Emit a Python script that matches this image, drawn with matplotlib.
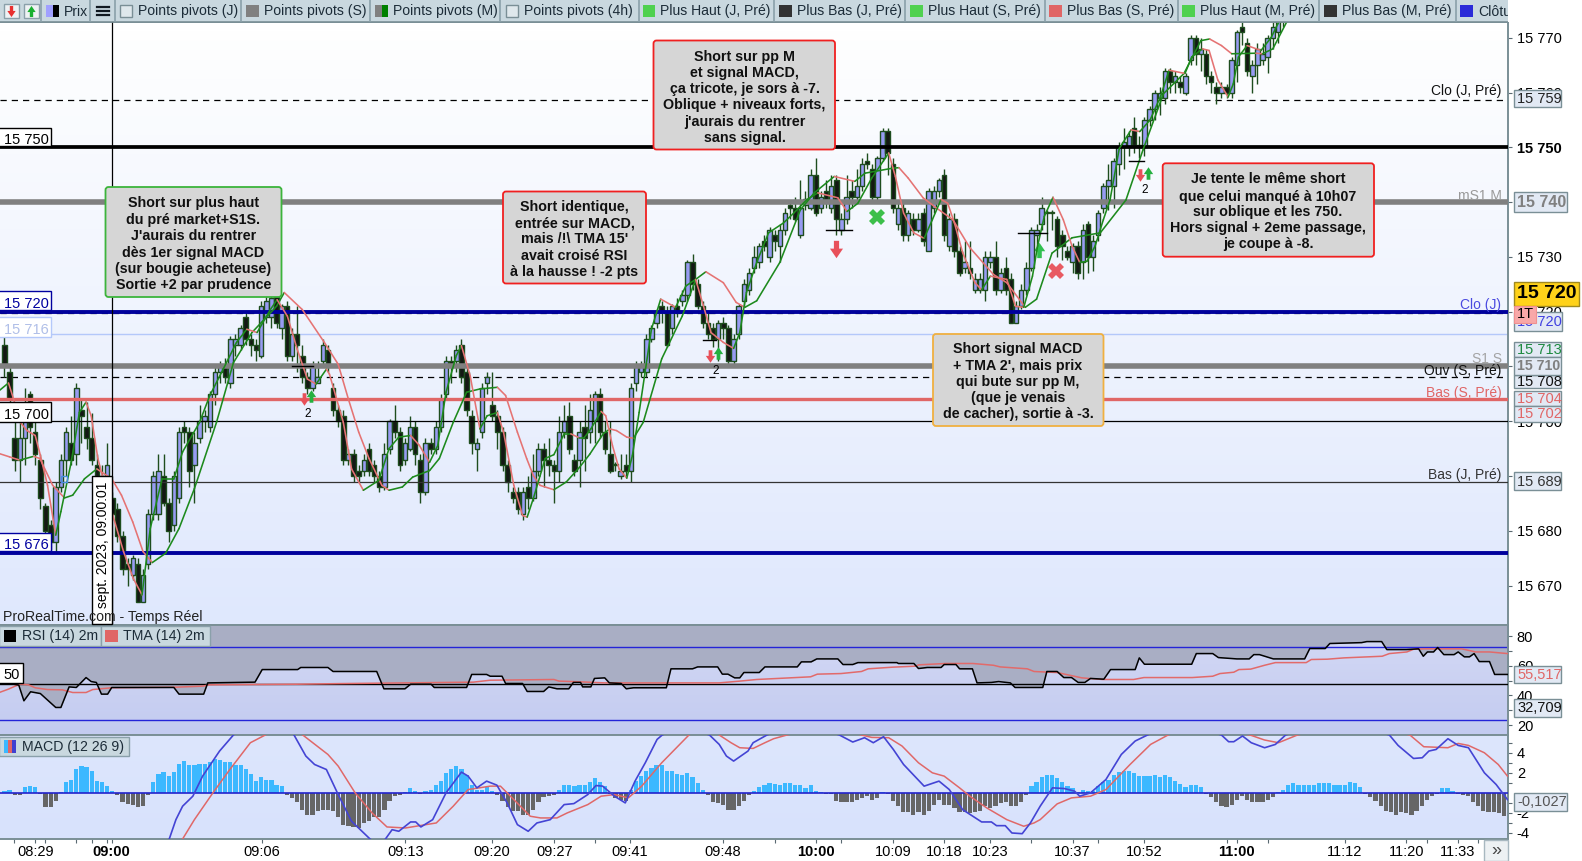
import numpy as np
import matplotlib
matplotlib.use("Agg")
import matplotlib.pyplot as plt
from matplotlib.colors import LinearSegmentedColormap
from matplotlib.patches import FancyBboxPatch, Rectangle
from matplotlib.path import Path

plt.rcParams['font.family'] = ['Liberation Sans', 'DejaVu Sans']

W, H = 1582, 861
base = 15700  # candle and average values are points above this level

opens = [14,9,-3,-7,-3,5,-2,-7,-15.5,-19,-22,-12,-7,-4,-6,2,-1,-3,-8,-10,-10,-14,-16,-21,-26,-28,-26,-33,-26,-17,
-17,-10,-15,-19,-14,-1,-2,-8,-3,0,-1,5,9,10,7,14,14,19,15,14,12,19,19,23,17,21,12,16,12,8,
6,7,11,13,6,2,1,-7,-6,-9,-9,-5,-8,-10,-12,-5,0,-2,-7,-5,-1,-7,-13,-4,-5,-1,5,11,11,14,
9,1,-5,-2,7,3,1,-2,-8,-13,-13,-17,-12,-14,-9,-5,-7,-8,-9,-2,1,-7,-7,-1,-2,0,5,-2,-6,-8,
-10,-8,-9,7,9,9,15,18,21,20,17,21,22,23,29,25,21,18,17,15,18,17,11,16,22,24,28,29,33,30,
34,32,35,39.5,39,34,39.5,39,45,39,42,39,44,35,37,42,41,43,47.5,46,41,48,53,47,36,39,34,37,35,38,
31,39,42,45,32,37,31,28,28,24,24,24,29,30,24,28,26,18,21,24,28,34,36,38,38,37,34,31,29,32,
29,36,30,34,39,43,43,47,50,50,53.5,50.5,50,55,57,59,59,64,62,62,60,66,70,67,67,63,61,60,61,60,
65,72,69,63,65,66,66.5,70,71,73]
closes = [10,4,-7,-3,2,-1,-6,-14,-20,-22,-12,-7,-2,-7,6,1,-3,-7,-10,-12.5,-8,-17,-21,-27,-27,-25,-33,-28,-17,-10,
-9,-15,-20,-10,-2,-2,-9,-4,0,1,5,9,10,8,15,15,17,15,14,13,21,22,22.5,18,21,12,16,14,8,6,
10,8,14,10,2,0,-7,-6,-10,-10,-7,-9,-10,-12,-6,0,-2,-8,-4,-1,-6,-13,-4,-5,-1,4,11,10,13,8,
2,-4,-4,6,8,1,-2,-8,-11,-14,-16,-13,-14,-9,-5,-7,-8,-9,-2,0,-5,-9,-2,-3,2,5,-2,-5,-9,-8,
-9,-9,6,10,10,15,17,20,20,14,21,20,23,29,25,21,18,16,15,18,17,11,15,21,25,27,30,32,32,35,
33,35,38,39,37,39,40.5,45,38,41,40.5,43,37,37,41,41,43,47,47,41,48,53,49,39,39,34,38,35,37,33,
42,42,44,34,37,31,27,29,27,26,26,30,30,24,27,24,18,21,24,28,35,35,39,38,38,32,32,30,32,27,
35,30,33,38,43,44,47.5,50,51,52,50.5,50,55,57,60,60,64,62,63,61,63,70,67,68,63,62,60,61,60,66,
71,71,64,65,68,67,70,72,73,76]
highs = [15.5,10,0,0,6,5.5,0,-6,-15,-18,-11,-6,-1,1,7,4,3.5,1.5,-6,-8,-4,-13,-15,-20,-25,-24.5,-25,-27,-16,-9,
-6,-6,-14,-9,-1,0,-1,-2,3,2,5.5,10,11,11.5,15.5,16,17.5,20,16,15,22,23,24,24,21.5,22,17,21,14,9,
11,11,15,14,7,3,2,-5,-5,-8,-6,-4,-7,-9,-4,0.5,3,-1,-3,1,0,-6,-3,-3,0,5,12,12,14,15,
10,2,-3,7,9,9,2,-1,-7,-12,-12,-12,-10,-6,-4,-4,-3,-7,1,3,3.5,-6,0,3,5,5.5,6,0,0,-7.5,
-6,-6,7,11,11,16,17.5,20.5,22,21,21.5,22.5,24,29.5,30.5,26,22,20,18,18.5,19,17.5,16,21.5,26,28,32,32.5,34,35.5,
35,36,39,40,41,44,42,46,48,42,44,45,45,38,45,44,46,48,49,47,48.5,53.5,53.5,48,40,40,38.5,38,38,39,
42.5,43,44.5,46,38,38,32,33,33,27,27,31,31,33,28,30,27,22,25,29,35.5,36,41,38.5,38.5,37.5,35,32,32.5,33,
36,36.5,34,38.5,43.5,47,48,51,53.5,53,55.5,52,55.5,57.5,60.5,61,64.5,64.5,64,63,63.5,70.5,70.5,70,68,64,62,62,61.5,66.5,
71.5,73,70,66,69,69,70.5,73,75,77]
lows = [8,2,-9,-11,-8,-4,-8,-16,-21,-23.5,-24,-13,-10,-8,-8,-4,-5,-8,-12,-14,-11,-18,-22,-28,-30,-29,-33,-33,-27,-18,
-18,-15.5,-22,-20,-15,-4,-12,-15,-4,-2,-2,3,7,7,6,12,13,14,12,11,11.5,18,17,17,15,11,11,9,7,5,
5.5,7,10,9,1,-1,-8,-8,-11,-11,-10,-10,-11,-13,-12.5,-6,-3,-9,-8,-5.5,-8,-15,-13.5,-6,-6,-2,4,7,9,7,
1,-6,-9,-3,5,0,-5,-9,-13,-15,-17,-18,-16,-14.5,-10,-12,-10,-15,-11,-3,-6,-10,-12,-9,-4,-4,-3,-6,-9.5,-9,
-10.5,-10,-11,5.5,8,8,14.5,17,18,13.5,16,19,21,22,24,20.5,17,15,13.5,11,15,10.5,10,15,21,23,27,28,31,29,
31,29,34,37,36.5,33.5,38.5,38.5,37.5,38,39,38,34,34,36,39,40,42,46,40,40,47.5,45,38,35,33,33,34,34.5,32,
31,38,41,33,31,30,26.5,27,26,23.5,23.5,22,28,23,23.5,23,18,18,20.5,23,27.5,31,35,33,35,30,29.5,29.5,27,26,
26,27,27.5,33,38,38.5,39,45,46,48.5,49,48,48.5,54,55,56,58,60,60,60,59.5,65,65,64,61.5,60,58,59,59,59,
62,68.7,63,60,61.5,65,63.5,68,69,72]

# price averages, read at bar positions
fast_x = [-1,0.8,1.8,3.1,4.4,6,7,8.4,10,11,13,14.6,15.9,16.9,18.2,20.9,23.2,25.1,26.8,28.4,30.7,33,34.7,38,40,42.6,45.2,47.2,49.2,51.8,53.1,55.1,57,59,60.7,62.7,63.3,66,67.6,69.9,72.9,74.9,76.8,79.1,80.8,82.8,84.4,86,88,89,90.7,92.6,94,96,97.2,99.2,100.9,101.8,103,104.3,105.3,107,109,110.3,111.9,112.9,114.2,116.2,117.1,118.4,119.7,121.2,122.3,123.6,126,127.8,130.7,132.7,134.6,136.3,137.6,140,142,143.2,144.5,146.5,148.8,151.7,153.7,156.3,158.4,162.3,164.1,166.2,168.9,171.5,172.2,173.5,175.1,177.1,179.1,180.7,182.4,183.7,185,186.6,189,190.3,192,195.2,196.9,198.5,200.2,201.2,202.5,204.2,206.2,207.9,209.4,210.8,212.4,214,215.3,217.1,219.4,221.1,223.1,225.1,226.8,229.9,231.2,233.3,234.6,236.3,238.3,239.3,240.3,242,244.7,246.7,248,249.4]
fast_p = [5.6,7,4,-0.2,-1.7,-2.6,-6.2,-11.7,-20.8,-16.5,-7.5,1.6,3.5,1,-6.8,-16.5,-23.8,-28.7,-31.7,-19.6,-10.5,-10.5,-5.6,-0.2,4.7,9.5,14.4,16.8,16.2,20.4,22.2,19.2,13.2,7.7,6.8,9.5,8.6,-0.2,-8.7,-12.6,-10.8,-5,-2.9,-2.6,-4.4,-7.5,-4.4,5.3,12,13.8,8.3,-1.4,1,1.6,-2,-11.7,-17.2,-17.5,-14.1,-10,-6.8,-6.1,-2.3,-2.3,-3,-3,-1.4,1.8,1,-4.4,-8.7,-10.4,-6.2,1.6,16.8,22.3,20.8,24.7,25.9,20.5,16.2,14.4,13.3,16.2,23.5,29,34.4,36.2,38,40.5,41.7,40.8,38.3,39.8,44.4,48,49,44.7,38,34.4,33.4,36.8,40.5,39.8,36.2,30.8,25.3,24,26.5,25.9,21,20.8,26.5,32,37.4,40.9,36.8,32,29,29.2,32,36.8,40.4,49.8,53.2,52.9,55,59.2,64.1,63.5,66.5,68,67.7,62.3,59.2,61.6,66.5,68.6,67.7,70.1,72.6,75]
slow_x = [-1,1,3,5.7,6.9,9.4,11.7,13.3,15.6,18,20.9,22.8,25,27,28.8,31.4,34,37,41.3,44.6,48.2,53,54.5,58,62.3,65,67,69,71,73.5,74.9,77.5,79.5,82.8,84.7,87.4,90,92.6,96,97.6,99.9,101.7,103,104.3,107,109.4,112,114,116.6,117.9,119.2,121.2,122.5,124.4,128,132,134.6,136.6,140,142.5,144.2,146.5,151,155,157.7,161.6,165.6,167.6,172.9,174.2,176,178.9,181.4,184.7,188,192.6,195.2,198.8,201,204,207.9,213.4,218.4,221.7,225.7,229.7,233,234.7,237,239,243.7,245,247,249.7,251.7]
slow_p = [-5.9,-6.5,-7.1,-6.4,-6.8,-11.7,-14,-13.5,-10.5,-8.7,-10.5,-13.5,-18.4,-23.8,-25.8,-24.1,-19.6,-12.3,-0.2,10.7,16.2,21,23.5,20.4,14.4,10.4,4,-2,-6.8,-11.7,-12.6,-12,-10.2,-9,-6.8,-0.2,5.3,5.9,6.2,4.7,-2,-6.8,-9.9,-11.7,-12.5,-11.1,-8.4,-6,-2.3,-1.4,-1.7,-2.9,-3.1,-0.2,11.4,19.2,25.9,27.3,25.3,21.7,20.8,22,29,38.6,41.7,44.7,43.8,45.3,46.2,46.3,44.4,40.8,39,36.8,31.7,26.8,25.3,20.8,22.3,30.7,33.5,34.4,40.4,49.5,59.8,63.5,69.5,69.8,68.6,67.1,67.2,67.1,68,72.9,77]

# horizontal levels on the price panel
lvl_black = 15750
lvl_gray = [15740, 15710]
lvl_blue = [15720, 15676]
lvl_red = 15704
lvl_thin = [15700, 15689]
lvl_light = 15716
lvl_dashed = [15758.6, 15708, 15719.8]

# RSI panel
rsi_x = [-1,0.1,1.8,2.8,3.8,5.1,7,10,11,12.6,14,15.9,16.9,17.9,18.9,20.1,20.9,33,34,38.8,39.6,48.8,50.2,57.1,57.7,63,64,72.5,73.9,78,79.1,83.1,83.7,90,91,93.9,94.6,96.9,97.6,100.9,101.8,105,106,107.6,109.9,110.8,112.2,112.6,114.2,114.9,116.9,117.8,120.1,121.1,122.5,128.9,129.8,134,135,138.9,139.8,140.9,142.2,143.2,144,147,148.1,154.4,155.2,157.1,158.2,162.3,163.3,165.2,166.2,173.8,174.1,177.1,178,179.7,182.4,183,185.3,186,188.5,189.4,192.2,193.6,195.9,196.8,202.2,203,205,206.3,207.8,209.1,210.4,211.5,214.1,215.4,220.2,221,222,231.2,232.1,235.3,236.4,240,242.4,243.3,244.4,247.1,253.2,254.2,257.2,258.1,264.3,265.3,268.2,269.2,273,275.4,276.3,277.1,278.3,279.1,280.3,282.3,283.1,284.3,285.3,286.2,287.2,289.2,290.2,293]
rsi_val = [47.6,47.6,47.6,47,36.4,42.5,41.3,31.9,31.9,45.8,45.4,52.1,49.4,48.8,40.9,40.9,45.4,45.4,40.9,40.9,48.5,49,57.5,57.5,58.9,58.9,56.2,56.2,44.5,44.5,47.6,47.6,45.4,45.4,54.2,54.2,53,53,48.1,48.1,42.7,42.7,45.8,44.5,44.5,48.8,48.8,45.8,45.8,51.5,51.9,48.5,48.1,44.5,45.2,45.2,58,58,59.3,59.3,54.4,54.4,51.9,51.9,55.5,55.5,59.3,59.3,62.7,62.7,64.7,64.7,60.9,60.9,62.2,62.2,61.6,61.6,58.2,58.9,58.9,60.9,60.9,58,58,48.5,48.8,49.4,48.5,45.4,45.4,56.2,56.2,52.1,52.1,48.8,48.8,51.5,51,57.5,57.5,65.4,61.1,61.1,68.3,68.3,65.6,64.7,64.7,67.6,67.6,64.7,64.7,71.7,71.7,75.1,75.7,76.4,76.4,71,71,71.5,66.5,69.4,69.4,72.4,67.6,67.6,69.4,66.1,66.1,68.3,62.9,62.9,54.2,54.2]
tma_x = [-1,0.8,2.1,3.1,4.7,6,8.4,11.3,13.3,15.9,17.2,20.9,33.4,38.6,39.9,57.1,65,78.1,91.3,94.6,102.4,107,108,112.2,116.9,139.2,143.2,146.5,151.8,157,158.3,162.9,166.9,168.2,172.9,177.4,178.1,183.3,188.6,192.6,193.9,199.2,200.5,203.6,205,209.8,213.8,219.9,221.9,231.3,235.3,236.7,239.4,240.4,242.7,245.4,247.5,253.5,254.5,257.6,260.9,268.3,269.7,273.1,274.4,276.4,283.8,286.5,289.2,292.7]
tma_val = [42,44.3,46.3,47.6,47.2,45.2,44,43.8,42,42,44,45.2,45.6,46.3,47.2,47.6,48,48.5,49,50.3,50.6,50.8,49.7,49.2,48.5,48.5,49.7,50.8,51.7,52.6,54.4,54.8,56.2,58,59.1,59.8,60.7,61.6,61.6,60.4,59.3,58,56.2,55.7,55.5,51.9,50.8,50.8,52.1,52.1,53,54.8,55.7,57.5,57.8,60.4,62.2,62.2,64.3,64.5,65.4,66.5,68.3,69.4,71.2,71.5,71.5,69.4,69.4,68.3]
rsi_mid, rsi_upper, rsi_lower = 48, 72.8, 23.1

# MACD panel, one histogram value per bar
macd_hist = [.17,.27,-.23,-.2,.57,.73,.6,-.13,-1.4,-1.43,-.83,.13,1.07,1.33,2.33,2.67,2.53,2.17,1.23,1.13,.67,.23,-.17,-.93,-1.13,-1.17,-1.43,-1.27,-.17,1.13,
1.87,2.07,1.67,2.07,2.83,3.13,2.77,2.77,2.83,2.87,3.1,3.33,3.27,3.07,3.07,2.73,2.73,2.33,1.87,1.17,1.57,1.33,1.33,.83,.67,-.2,-.5,-.93,-1.67,-2.17,
-2.17,-1.77,-1.67,-1.67,-1.83,-2.4,-3.17,-3.27,-3.4,-3.5,-3,-2.83,-2.4,-2.4,-1.67,-.77,-.27,-.2,.1,.5,.17,-.13,.17,.33,.77,1.23,2,2.33,2.67,2.4,
1.77,.83,.33,.33,.57,.23,-.17,-.83,-1.43,-1.83,-1.83,-2.23,-2.17,-1.67,-.9,-.43,-.33,-.2,.33,.83,.83,.67,.83,.83,1.13,1.53,1.13,.73,-.13,-.5,
-.67,-.83,.33,1.17,1.67,2.17,2.5,2.73,2.73,2.23,2.17,1.9,1.77,2,1.6,1.03,.33,-.2,-.9,-1,-1.17,-1.67,-1.67,-1.27,-.77,-.17,.2,.63,.83,1.03,
.9,.83,1,1.03,.77,.77,.53,.77,.23,.1,-.1,-.1,-.77,-.93,-.93,-.93,-.73,-.5,-.33,-.73,-.5,.13,-.1,-.83,-1.27,-1.87,-1.87,-2.17,-1.9,-2.17,
-1.77,-1.17,-.73,-1.17,-1.17,-1.5,-1.9,-1.9,-2,-1.93,-1.83,-1.33,-1.5,-1.27,-1,-.93,-1.33,-1.27,-.87,-.17,.67,1.13,1.6,1.83,1.83,1.53,1.13,.73,.53,.07,
.33,.17,.2,.67,1.13,1.33,1.77,2.1,2.17,2.17,2,1.67,1.67,1.67,1.77,1.6,1.77,1.57,1.23,.93,.6,.77,.77,.63,-.1,-.43,-.93,-1.27,-1.43,-1.17,
-.73,-.33,-.73,-.93,-.93,-.93,-.73,-.43,.1,.33,.83,1.03,.83,.83,.83,.83,1.03,1.03,1.03,.83,.83,.83,1.13,1.03,.63,-.1,-.43,-.83,-1.33,-1.77,
-1.93,-2.17,-1.93,-2,-2.17,-1.77,-1.33,-.73,-.33,-.07,.5,.5,.2,-.1,-.23,-.27,-.87,-1.33,-1.77,-1.87,-1.93,-2,-2.27]
macd_x = [30.1,32.1,33.4,34.7,36.7,38.6,41.9,44.6,49.2,53.1,56.4,58.7,60.4,62.7,65,67.6,71.2,72.9,74.2,75.5,76.8,79.1,80.1,81.1,83.4,86,89,90.3,92,93.9,95.9,97.9,99.9,102,103.7,106.3,109,110.9,113.6,115.2,116.5,118.8,120.9,122.8,124.8,127.1,128.1,132,137.3,139.2,140.6,142,144.8,145.8,148.5,155,162.6,165.2,167.5,169.2,171.2,173.1,175.1,179.1,182,184,186.6,190.3,192.2,193.2,194.9,196.2,198.2,199.8,201.7,204.1,206.4,208.4,209.4,211.5,214.5,217.5,220.2,222.6,228.6,237,238.4,239.4,241.1,242.8,245.4,247.5,249.5,259.6,269.7,271.4,274.4,276.1,277.4,278.8,281.1,283.1,285.1,288.2,290.5,292.7]
macd_val = [-5.6,-4.6,-2.67,-1.33,-.33,1.67,4.17,5.77,7.5,7.5,5.77,3.67,2.83,2.33,-.17,-2.83,-4.6,-5.2,-4.6,-3.67,-3.83,-2.9,-2.9,-3.4,-2.67,0,2.07,1.67,.5,1.17,.77,-1,-3.17,-3.83,-3,-2.67,-1.17,-1.07,-.17,.73,.67,-.33,-1,1.17,3,5.33,5.77,6.67,5.77,4.83,3.67,3.17,4.17,5,5.77,7,5.77,5.07,5.5,5,5.6,4.33,2.83,.67,1.17,.33,-1.67,-2.9,-2.9,-3.27,-3.27,-4,-4.07,-3,-1.33,.5,.43,.17,-.33,0,1.33,3.83,5.17,5.77,7,5.77,5.1,5.1,5.67,5,4.5,4.83,5.77,7.3,5.77,4.73,3.43,3.5,4.17,4.33,5.4,4.73,4.5,2,.83,-.67]
signal_x = [33.7,34.7,37,40.6,43.9,47.9,50.8,54.4,58.1,63,65,68.3,71.6,74.5,78.1,84.1,87.4,90.3,94.6,96.6,99.2,102.4,104.4,107.6,109.6,113.6,116.2,118.8,121.5,124.1,128,133.3,136.6,139.2,141.5,143.2,145.8,148.1,149.8,152.4,159.7,166.9,168.9,172.2,174.8,178,180.7,183,186,188,191.3,195.2,198.5,200.5,201.7,205,207.8,211.5,214.5,219.2,223.2,226.6,232,237,242.8,245.4,248.1,251.8,262.3,273.7,276.4,281.1,283.1,285.1,288.2,290.9,292.7]
signal_val = [-5.5,-4.6,-2.67,0,2.33,5,5.77,7,5.77,3.83,2.67,0,-2,-3.4,-3.5,-3,-1.33,.33,.67,.67,-.67,-2.33,-2.5,-2.5,-2,-1.17,-.33,-.17,-.5,.67,3,5.77,6.67,5.77,5,4.5,4.43,5,5.4,5.77,6.67,5.77,5.53,5.5,4.67,3,2,1.67,.5,-.33,-1.5,-2.67,-3.33,-3,-2.67,-1.1,-.5,-.33,.33,2.83,4.83,5.77,6.8,6.4,5.73,5.27,5,5.77,7,5.77,4.6,4.5,4.93,4.73,4,2.83,1.67]

# time axis, positions are bar numbers
time_pos = [6,20.9,50.2,78.1,95,107.1,121.8,139.9,158,173,183,192,208,222,240,261,273,283]
time_lbl = ['08:29','09:00','09:06','09:13','09:20','09:27','09:41','09:48','10:00','10:09','10:18','10:23','10:37','10:52','11:00','11:12','11:20','11:33']
time_minor = [1.9,8,14,17,20,115,150,163,200,213,238,246,277,287]

price_ticks = [15670,15680,15690,15700,15710,15720,15730,15740,15750,15760,15770]
price_hidden = [15710, 15740]  # sit fully behind their value tags

GREEN = '#1d8a1d'
RED = '#e57373'
WICK = '#1e4d1e'
DOWN_ARROW = Path([(-.3,1),(.3,1),(.3,.1),(.75,.1),(0,-1),(-.75,.1),(-.3,.1),(-.3,1)], closed=True)
UP_ARROW = Path([(-.3,-1),(.3,-1),(.3,-.1),(.75,-.1),(0,1),(-.75,-.1),(-.3,-.1),(-.3,-1)], closed=True)


def add_px(fig, x0, y0, x1, y1):
    return fig.add_axes([x0/W, 1-y1/H, (x1-x0)/W, (y1-y0)/H])


def grad(ax, c_top, c_bot, xlim, ylim):
    cm = LinearSegmentedColormap.from_list('g', [c_top, c_bot])
    ax.imshow(np.linspace(0, 1, 64).reshape(-1, 1), cmap=cm, aspect='auto', zorder=0,
              extent=[xlim[0], xlim[1], ylim[0], ylim[1]], origin='upper')
    ax.set_xlim(xlim)
    ax.set_ylim(ylim)


def color_line(ax, xs, ys, zorder=5):
    # green while rising, red while falling
    for k in range(len(xs)-1):
        c = GREEN if ys[k+1] >= ys[k] else RED
        ax.plot(xs[k:k+2], ys[k:k+2], color=c, lw=1.15, zorder=zorder, solid_capstyle='round')


fig = plt.figure(figsize=(W/100, H/100), dpi=100, facecolor='white')
xlim = (-0.857, 292.8)

# price panel
ax = add_px(fig, 0, 22, 1508, 625)
grad(ax, '#ffffff', '#dfe8fd', xlim, (15662.8, 15772.9))
x = np.arange(len(opens))
o = base + np.array(opens, dtype=float)
c = base + np.array(closes, dtype=float)
hi = base + np.array(highs, dtype=float)
lo = base + np.array(lows, dtype=float)
up = c >= o
ax.vlines(x, lo, hi, color=WICK, lw=1, zorder=2)
ax.bar(x, np.maximum(np.abs(c-o), 0.15), bottom=np.minimum(o, c), width=0.88,
       color=['#979bf2' if u else '#141814' for u in up], edgecolor=WICK, linewidth=1.0, zorder=3)
color_line(ax, slow_x, base + np.array(slow_p))
color_line(ax, fast_x, base + np.array(fast_p))

ax.axhline(lvl_black, color='black', lw=2.7, zorder=4)
for v in lvl_gray:
    ax.axhline(v, color='#808080', lw=4, zorder=4)
ax.axhline(lvl_light, color='#b4c8fa', lw=1, zorder=1)
for v in lvl_dashed:
    ax.axhline(v, color='black', lw=0.9, ls=(0, (5, 4)), zorder=1)
for v in lvl_blue:
    ax.axhline(v, color='#00009c', lw=2.8, zorder=4)
ax.axhline(lvl_red, color='#e06666', lw=2.4, zorder=4)
ax.axhline(lvl_thin[0], color='black', lw=0.9, zorder=4)
ax.axhline(lvl_thin[1], color='#333333', lw=0.9, zorder=4)
ax.axvline(20.9, color='black', lw=0.9, zorder=4)

# entries and exits
ax.plot([58.4, 137.4, 221.1], [15704, 15712, 15745], ls='', marker=DOWN_ARROW, ms=9, color='#e8505a', mew=0, zorder=7)
ax.plot([59.8, 138.9, 222.6], [15704.7, 15712.5, 15745.4], ls='', marker=UP_ARROW, ms=9, color='#25b040', mew=0, zorder=7)
ax.plot([162], [15731.4], ls='', marker=DOWN_ARROW, ms=12.5, color='#e8505a', mew=0, zorder=7)
ax.plot([201.5], [15731.3], ls='', marker=UP_ARROW, ms=11, color='#30c050', mew=0, zorder=2.5)
ax.plot([170], [15737.3], ls='', marker='X', ms=11, color='#3cbf4a', mew=0, zorder=7)
ax.plot([204.8], [15727.4], ls='', marker='X', ms=11, color='#e85a62', mew=0, zorder=7)
ax.plot([11.6], [15689.5], ls='', marker='s', ms=5, mfc='none', mec='#4a90e0', mew=1, zorder=7)
for x0, x1, v in [(56, 60, 15710), (136, 138.6, 15714.8), (160, 165, 15735), (197.3, 203, 15734.4), (219, 222, 15747.6)]:
    ax.plot([x0, x1], [v, v], color='black', lw=1, zorder=7)
for xt, v in [(59.1, 15701.3), (138.6, 15709.2), (222, 15742.3)]:
    ax.text(xt, v, '2', ha='center', va='center', fontsize=8.5, zorder=7)

ax.yaxis.tick_right()
ax.set_yticks(price_ticks, ['' if t in price_hidden else f'{t//1000} {t%1000:03d}' for t in price_ticks], fontsize=10.5)
ax.tick_params(axis='y', length=3, width=0.8, color='#5a6a72', pad=3.3)
ax.set_xticks([])
ax.get_yticklabels()[price_ticks.index(15750)].set_fontweight('bold')

# RSI panel
ax2 = add_px(fig, 0, 625, 1508, 735)
rlim = (13.3, 87.6)
grad(ax2, '#d4d9f5', '#c3cbf0', xlim, rlim)
ax2.fill_between(rsi_x, rsi_val, rlim[1], color='#a9aec4', lw=0, zorder=1)
ax2.axhline(rsi_mid, color='black', lw=1, zorder=3)
ax2.axhline(rsi_upper, color='#2424d8', lw=1, zorder=2)
ax2.axhline(rsi_lower, color='#2424d8', lw=1, zorder=2)
ax2.plot(tma_x, tma_val, color='#e26a6a', lw=1.1, zorder=4)
ax2.plot(rsi_x, rsi_val, color='black', lw=1.1, zorder=5)
ax2.yaxis.tick_right()
ax2.set_yticks([80, 60, 40, 20], ['80', '60', '40', '20'], fontsize=10.5)
ax2.set_yticks([70, 50, 30], minor=True)
ax2.tick_params(axis='y', which='both', length=3, width=0.8, color='#5a6a72', pad=3.3)
ax2.set_xticks([])

# MACD panel
ax3 = add_px(fig, 0, 735, 1508, 839)
mlim = (-4.6, 5.77)
grad(ax3, '#dde6fd', '#d8e2fc', xlim, mlim)
hist = np.array(macd_hist)
ax3.bar(np.arange(len(hist)), hist, width=0.82, color=['#3cb8ff' if v > 0 else '#666666' for v in hist], zorder=2)
ax3.axhline(0, color='#2222cc', lw=1.2, zorder=3)
ax3.plot(signal_x, signal_val, color='#e06868', lw=1.1, zorder=4)
ax3.plot(macd_x, macd_val, color='#4444d4', lw=1.2, zorder=5)
ax3.yaxis.tick_right()
ax3.set_yticks([4, 2, -2, -4], ['4', '2', '-2', '-4'], fontsize=10.5)
ax3.set_yticks([5, 3, 1, -1, -3], minor=True)
ax3.tick_params(axis='y', which='both', length=3, width=0.8, color='#5a6a72', pad=3.3)
ax3.set_xticks(time_pos, time_lbl, fontsize=10.5)
ax3.set_xticks(time_minor, minor=True)
ax3.tick_params(axis='x', which='both', length=3, width=0.8, color='#5a6a72', pad=1.5)
for lab in ax3.get_xticklabels():
    if lab.get_text() in ('09:00', '10:00', '11:00'):
        lab.set_fontweight('bold')

for a in (ax, ax2, ax3):
    for s in a.spines.values():
        s.set_color('#7a8f96')
        s.set_linewidth(1.4)
    a.spines['left'].set_visible(False)

# everything that is window furniture sits on a pixel overlay
ui = fig.add_axes([0, 0, 1, 1], facecolor='none', zorder=20)
ui.set_xlim(0, W)
ui.set_ylim(H, 0)
ui.axis('off')

BAR = '#c9d8df'
ui.add_patch(Rectangle((0, 0), 1508, 22, fc=BAR, ec='none', zorder=1))
ui.plot([0, 1508], [21.5, 21.5], color='#7a8f96', lw=1.2, zorder=2)
for sx in [41, 90, 115, 241, 370, 500, 638.5, 774, 905, 1044.5, 1178, 1319, 1456]:
    ui.plot([sx, sx], [0, 21], color='#8aa0aa', lw=1.2, zorder=2)

tool_lbl = ['Prix', 'Points pivots (J)', 'Points pivots (S)', 'Points pivots (M)', 'Points pivots (4h)',
            'Plus Haut (J, Pré)', 'Plus Bas (J, Pré)', 'Plus Haut (S, Pré)', 'Plus Bas (S, Pré)',
            'Plus Haut (M, Pré)', 'Plus Bas (M, Pré)', 'Clôture']
tool_x = [64, 138, 264, 393, 524, 660.5, 797, 928, 1067, 1200, 1342, 1478]
tool_col = [None, None, '#808080', '#808080', None, '#4fd14f', '#333333', '#4fd14f', '#e06666', '#4fd14f', '#333333', '#2a2ad8']
for s, tx, col in zip(tool_lbl, tool_x, tool_col):
    ui.text(tx, 11.5, s, fontsize=10.1, color='#1c2c38', va='center', ha='left', zorder=3)
    if col:
        ui.add_patch(Rectangle((tx-18, 4.5), 12.5, 12.5, fc=col, ec='none', zorder=3))
ui.add_patch(Rectangle((381.5, 4.5), 6.5, 12.5, fc='#008000', ec='none', zorder=4))
for bx in [120, 506]:
    ui.add_patch(Rectangle((bx, 4.5), 12, 12, fc='#dfe8ec', ec='#7a8f96', lw=1, zorder=3))
ui.add_patch(Rectangle((46, 4.5), 6.5, 12.5, fc='#a0a0ff', ec='none', zorder=3))
ui.add_patch(Rectangle((52.5, 4.5), 6.5, 12.5, fc='black', ec='none', zorder=3))
for bx, mk, col in [(4, DOWN_ARROW, '#e83030'), (24, UP_ARROW, '#18b030')]:
    ui.add_patch(Rectangle((bx, 3.5), 14.5, 14, fc='#eef2f4', ec='#8aa0aa', lw=1, zorder=3))
    ui.plot([bx+7.3], [11], marker=mk, ms=8, color=col, mew=0, zorder=4)
for ly in [7, 11, 15]:
    ui.plot([97, 99], [ly, ly], color='#101820', lw=1.6, zorder=3)
    ui.plot([101, 109], [ly, ly], color='#101820', lw=1.6, zorder=3)
ui.add_patch(Rectangle((1508, 0), 74, 22, fc='white', ec='none', zorder=5))

# notes on the chart
notes = [
    ('#3cb43c', (105.5, 187, 281.5, 297), 193.5, [202, 218.5, 235, 251, 267.5, 284],
     ['Short sur plus haut', 'du pré market+S1S.', "J'aurais du rentrer", 'dès 1er signal MACD', '(sur bougie acheteuse)', 'Sortie +2 par prudence']),
    ('#f02020', (503, 191.5, 646, 283.5), 574.5, [205.7, 221.7, 237.5, 254, 270.5],
     ['Short identique,', 'entrée sur MACD,', "mais /!\\ TMA 15'", 'avait croisé RSI', 'à la hausse ! -2 pts']),
    ('#f02020', (653.5, 40.5, 835, 149.5), 744.5, [55.5, 71.7, 87.8, 104, 120.1, 136.3],
     ['Short sur pp M', 'et signal MACD,', 'ça tricote, je sors à -7.', 'Oblique + niveaux forts,', "j'aurais du rentrer", 'sans signal.']),
    ('#f0b040', (933, 334, 1103.5, 426), 1018, [347.3, 364.5, 380.6, 396.8, 412.5],
     ['Short signal MACD', "+ TMA 2', mais prix", 'qui bute sur pp M,', '(que je venais', 'de cacher), sortie à -3.']),
    ('#f02020', (1162.7, 163.3, 1374, 256.7), 1268, [177.7, 195, 210.7, 226.7, 242.7],
     ['Je tente le même short', 'que celui manqué à 10h07', 'sur oblique et les 750.', 'Hors signal + 2eme passage,', 'je coupe à -8.']),
]
for col, (x0, y0, x1, y1), cx, ys, lines in notes:
    ui.add_patch(FancyBboxPatch((x0+2, y0+2), x1-x0-4, y1-y0-4, boxstyle='round,pad=2,rounding_size=3',
                                fc='#d6d6d6', ec=col, lw=1.3, zorder=6))
    for ly, s in zip(ys, lines):
        ui.text(cx, ly+1.5, s, ha='center', va='center', fontsize=10.3, fontweight='bold', color='#101010', zorder=7)

# boxed values on the left edge
for s, y0, y1, ec, tc in [('15 750', 128, 146, 'black', 'black'), ('15 720', 291, 310, '#0000a0', '#0000a0'),
                          ('15 716', 317, 337, '#b4c8fa', '#b0bfe8'), ('15 700', 402, 422, 'black', 'black'),
                          ('15 676', 533, 551, '#0000a0', '#0000a0')]:
    ui.add_patch(Rectangle((-2, y0), 52.7, y1-y0, fc='white', ec=ec, lw=1, zorder=6))
    ui.text(3.5, (y0+y1)/2+3, s, fontsize=10.5, color=tc, va='center', zorder=7)
ui.add_patch(Rectangle((-2, 663), 24.6, 20, fc='white', ec='black', lw=1, zorder=6))
ui.text(3.5, 675, '50', fontsize=10.5, va='center', zorder=7)

ui.add_patch(Rectangle((92, 476), 19.6, 148, fc='white', ec='black', lw=1, zorder=6))
ui.text(103, 544.5, 'sept. 2023, 09:00:01', fontsize=10, rotation=90, ha='center', va='center', zorder=7)
ui.text(3, 617, 'ProRealTime.com - Temps Réel', fontsize=10.2, color='#222222', va='center', zorder=8)

# level names at the right end of the price panel
for s, ly, col in [('Clo (J, Pré)', 91, '#111111'), ('mS1 M', 195.5, '#9a9a9a'), ('Clo (J)', 305, '#4a4ae0'),
                   ('S1 S', 359, '#a4a4a4'), ('Ouv (S, Pré)', 370.5, '#111111'), ('Bas (S, Pré)', 392.5, '#e06666'),
                   ('Bas (J, Pré)', 475.5, '#333333')]:
    ui.text(1501.5, ly, s, fontsize=10, color=col, ha='right', va='center', zorder=7)

# value tags on the price axis
for s, y0, y1, x1, col, fs, bold in [('15 759', 90, 107.3, 1561, '#222222', 10.5, False), ('15 740', 191.7, 212.3, 1566.5, '#808080', 11.5, True),
                                     ('15 720', 312, 331, 1562, '#4040e0', 10.5, False), ('15 713', 341.7, 356.7, 1561, '#1e8a40', 10.5, False),
                                     ('15 708', 375, 388, 1561, '#111111', 10.5, False), ('15 710', 356.7, 375, 1561, '#808080', 10.2, True),
                                     ('15 704', 390.7, 406, 1561, '#e06666', 10.5, False), ('15 702', 406, 421.7, 1561, '#e06666', 10.5, False),
                                     ('15 689', 472, 490, 1561, '#333333', 10.5, False), ('55,517', 666, 682.5, 1561, '#e06666', 10.5, False),
                                     ('32,709', 699, 717, 1561, '#111111', 10.5, False), ('-0,1027', 793, 811, 1566.5, '#555555', 10.5, False)]:
    ui.add_patch(Rectangle((1514, y0), x1-1514, y1-y0, fc='#e2e9f4', ec='#7a8f96', lw=1, zorder=6))
    ui.text(1517, (y0+y1)/2+.5, s, fontsize=fs, color=col, fontweight='bold' if bold else 'normal',
            va='center', zorder=7)
ui.add_patch(Rectangle((1514, 281.7), 65, 24.5, fc='#ffd21a', ec='#a08a20', lw=1, zorder=8))
ui.text(1546.5, 294, '15 720', fontsize=14, fontweight='bold', color='black', ha='center', va='center', zorder=9)
ui.add_patch(Rectangle((1514, 305.7), 22, 17, fc='#f8a8a8', ec='#f09090', lw=0.8, zorder=8))
ui.text(1525, 314.5, '1T', fontsize=10.5, ha='center', va='center', zorder=9)

# legend boxes of the lower panels
ui.add_patch(Rectangle((-1, 625.7), 101.7, 20.3, fc=BAR, ec='#8aa0aa', lw=1, zorder=6))
ui.add_patch(Rectangle((100.7, 625.7), 108.9, 20.3, fc=BAR, ec='#8aa0aa', lw=1, zorder=6))
ui.add_patch(Rectangle((3.5, 629.5), 12.5, 12.5, fc='black', ec='none', zorder=7))
ui.add_patch(Rectangle((105, 629.5), 12.5, 12.5, fc='#e06666', ec='none', zorder=7))
ui.text(22, 636, 'RSI (14) 2m', fontsize=10.2, color='#1c2c38', va='center', zorder=7)
ui.text(122.7, 636, 'TMA (14) 2m', fontsize=10.2, color='#1c2c38', va='center', zorder=7)
ui.add_patch(Rectangle((-1, 736.7), 129.5, 19.3, fc=BAR, ec='#8aa0aa', lw=1, zorder=6))
for sx, col in [(4, '#3cb8ff'), (8, '#e06666'), (12, '#4040d0')]:
    ui.add_patch(Rectangle((sx, 740), 4, 12.5, fc=col, ec='none', zorder=7))
ui.text(22, 746.5, 'MACD (12 26 9)', fontsize=10.2, color='#1c2c38', va='center', zorder=7)

# scroll button of the time axis
ui.add_patch(Rectangle((1484, 840), 24, 21, fc='#edf1f3', ec='#a8b8c0', lw=1, zorder=6))
ui.text(1496, 850, '»', fontsize=13, color='#444444', ha='center', va='center', zorder=7)

fig.savefig('out.png', dpi=100)
